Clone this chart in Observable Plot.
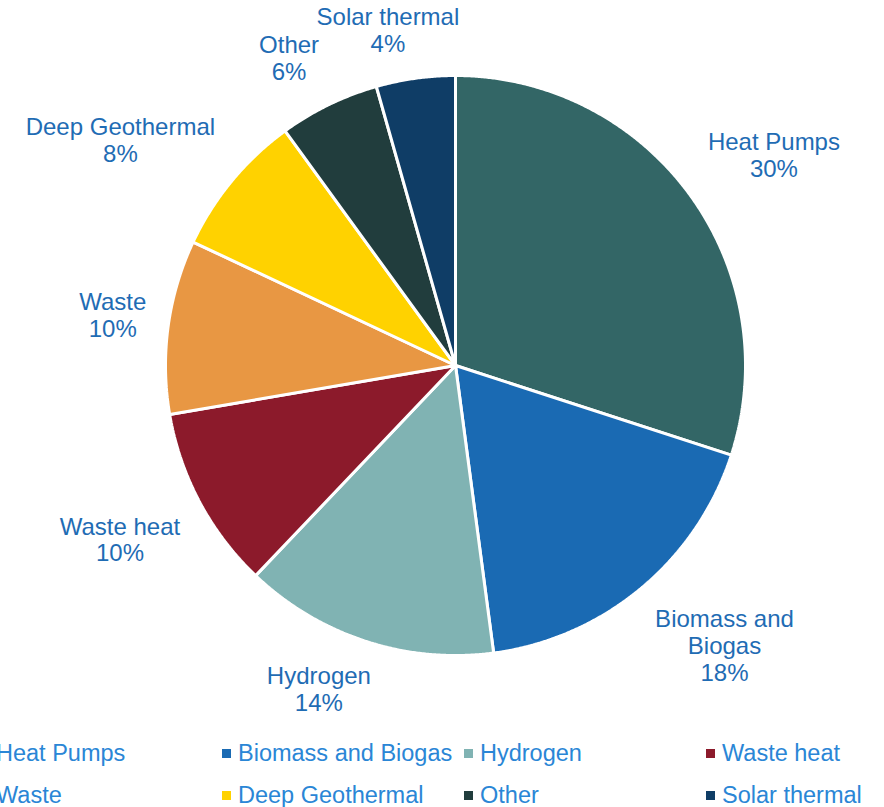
<!DOCTYPE html>
<html>
<head>
<meta charset="utf-8">
<script src="https://cdn.jsdelivr.net/npm/d3@7"></script>
<script src="https://cdn.jsdelivr.net/npm/@observablehq/plot@0.6"></script>
<style>
  html, body { margin: 0; padding: 0; background: #fff; overflow: hidden; }
  body { width: 884px; height: 807px; font-family: "Liberation Sans", Arial, sans-serif; }
  #legend { position: relative; height: 75px; }
  .item { position: absolute; display: flex; align-items: center; font-size: 23.5px; color: #2a86d6; white-space: nowrap; height: 42px; }
  .sw { width: 9px; height: 9px; margin-right: 7px; }
</style>
</head>
<body>
<div id="chart"></div>
<div id="legend"></div>
<script>
const categories = ["Heat Pumps", "Biomass and Biogas", "Hydrogen", "Waste heat", "Waste", "Deep Geothermal", "Other", "Solar thermal"];
const labelTexts = ["Heat Pumps", "Biomass and\nBiogas", "Hydrogen", "Waste heat", "Waste", "Deep Geothermal", "Other", "Solar thermal"];
const values = [30.0, 17.9, 14.2, 10.2, 9.7, 8.0, 5.6, 4.4];
const colors = ["#336666", "#1a6ab3", "#80b3b3", "#8c1a2b", "#e89743", "#ffd200", "#213d3d", "#0f3d66"];

const W = 884, H = 732, R = 290, CX = 455, CY = 365;
const FONT = "24px 'Liberation Sans', Arial, sans-serif";
const total = d3.sum(values);
const arcs = d3.pie().sort(null).value(d => d)(values);

// slice polygons in unit-radius coordinates
const poly = [];
arcs.forEach((a, i) => {
  const n = Math.max(2, Math.ceil((a.endAngle - a.startAngle) / 0.005));
  poly.push({cat: categories[i], x: 0, y: 0});
  for (let k = 0; k <= n; k++) {
    const t = a.startAngle + (a.endAngle - a.startAngle) * k / n;
    poly.push({cat: categories[i], x: Math.sin(t), y: Math.cos(t)});
  }
});

// labels: the label box's inner corner sits on a ring just outside the pie,
// on the slice's mid angle (outside-end style)
const ctx = document.createElement("canvas").getContext("2d");
ctx.font = FONT;
const clamp = v => Math.max(-1, Math.min(1, v));
const labels = arcs.map((a, i) => {
  const text = labelTexts[i] + "\n" + Math.round(values[i] / total * 100) + "%";
  const lines = text.split("\n");
  const w = d3.max(lines, l => ctx.measureText(l).width) / R;
  const h = lines.length * 27 / R;
  const th = (a.startAngle + a.endAngle) / 2;
  const rho = 312 / R, k = 2.5;
  const s = Math.sin(th), c = Math.cos(th);
  return {
    text,
    x: rho * s + clamp(k * s) * w / 2,
    y: rho * c + clamp(k * c) * h / 2
  };
});

const chart = Plot.plot({
  width: W, height: H,
  margin: 0,
  x: {domain: [-CX / R, (W - CX) / R], range: [0, W], axis: null},
  y: {domain: [-(H - CY) / R, CY / R], range: [H, 0], axis: null},
  color: {domain: categories, range: colors},
  style: {fontFamily: "'Liberation Sans', Arial, sans-serif", background: "#fff"},
  marks: [
    Plot.line(poly, {x: "x", y: "y", z: "cat", fill: "cat", stroke: "white", strokeWidth: 3, curve: "linear-closed", strokeLinejoin: "miter"}),
    Plot.text(labels, {x: "x", y: "y", text: "text", fill: "#1f6cb4", fontSize: 24, lineHeight: 1.125, textAnchor: "middle"})
  ]
});
document.getElementById("chart").appendChild(chart);

// legend (HTML, below the svg)
const legend = document.getElementById("legend");
categories.forEach((c, i) => {
  const col = i % 4, row = Math.floor(i / 4);
  const el = document.createElement("div");
  el.className = "item";
  el.style.left = (-20 + col * 242) + "px";
  el.style.top = (row * 42) + "px";
  const sw = document.createElement("span");
  sw.className = "sw";
  sw.style.background = colors[i];
  el.appendChild(sw);
  el.appendChild(document.createTextNode(c));
  legend.appendChild(el);
});
</script>
</body>
</html>
